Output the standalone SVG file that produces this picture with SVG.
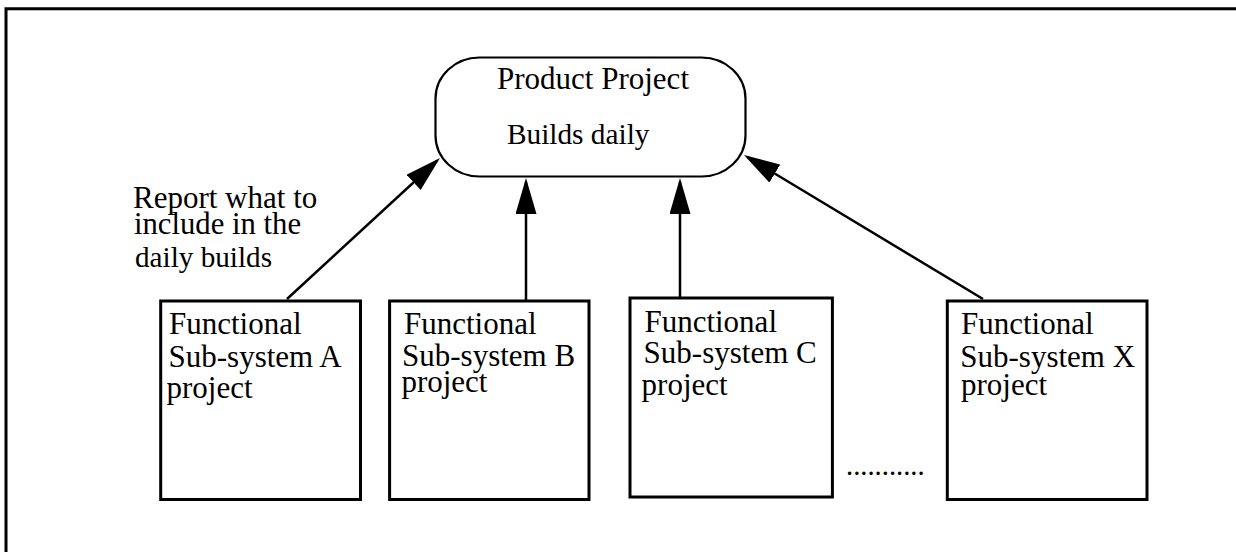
<svg xmlns="http://www.w3.org/2000/svg" width="1236" height="552" viewBox="0 0 1236 552">
  <style>
    text { font-family: "Liberation Serif", "Times New Roman", serif; fill: #000; }
    .box { fill: #fff; stroke: #000; stroke-width: 3; }
    .hub { fill: #fff; stroke: #000; stroke-width: 2.2; }
    .lbl { font-size: 31px; }
    .conn { fill: none; stroke: #000; stroke-width: 2.5; marker-end: url(#head); }
  </style>
  <defs>
    <marker id="head" markerUnits="userSpaceOnUse" markerWidth="36" markerHeight="22" refX="32" refY="10.5" orient="auto">
      <path d="M0,0 L36,10.5 L0,21 Z" fill="#000"/>
    </marker>
  </defs>

  <rect width="1236" height="552" fill="#fff"/>

  <!-- page frame: left rule and top rule -->
  <path d="M6,552 L6,8.7 L1236,8.7" fill="none" stroke="#000" stroke-width="3"/>

  <!-- connectors -->
  <g id="connectors">
    <path class="conn" d="M287,299 L437.06,160.71"/>
    <path class="conn" d="M526,301 L526,182"/>
    <path class="conn" d="M680,298 L680,182"/>
    <path class="conn" d="M983,299 L747.4,157.1"/>
  </g>

  <!-- hub node -->
  <g id="product-project">
    <rect class="hub" x="435.5" y="57.5" width="310" height="119" rx="44" ry="41"/>
    <text x="497" y="89" font-size="31">Product Project</text>
    <text x="507" y="144" font-size="29.3">Builds daily</text>
  </g>

  <!-- connector annotation -->
  <g id="report-label">
    <text x="133" y="208" font-size="31">Report what to</text>
    <text x="134" y="234" font-size="30.7">include in the</text>
    <text x="135" y="266.7" font-size="29.2">daily builds</text>
  </g>

  <g id="subsystem-a">
    <rect class="box" x="160.7" y="301" width="199.8" height="198.5"/>
    <text class="lbl" x="169" y="334">Functional</text>
    <text class="lbl" x="168.5" y="366.7">Sub-system A</text>
    <text class="lbl" x="166.5" y="398.3">project</text>
  </g>

  <g id="subsystem-b">
    <rect class="box" x="389.6" y="301" width="199.4" height="198.5"/>
    <text class="lbl" x="404" y="334">Functional</text>
    <text class="lbl" x="402" y="366">Sub-system B</text>
    <text class="lbl" x="401.4" y="391.7">project</text>
  </g>

  <g id="subsystem-c">
    <rect class="box" x="630" y="298" width="202.4" height="199"/>
    <text class="lbl" x="644.4" y="331.7">Functional</text>
    <text class="lbl" x="643.6" y="363.3">Sub-system C</text>
    <text class="lbl" x="641.6" y="395">project</text>
  </g>

  <g id="ellipsis">
    <text x="846" y="475" font-size="28.6">...........</text>
  </g>

  <g id="subsystem-x">
    <rect class="box" x="947.3" y="301" width="199.7" height="198.5"/>
    <text class="lbl" x="961" y="334.3">Functional</text>
    <text class="lbl" x="960.3" y="366.7">Sub-system X</text>
    <text class="lbl" x="961" y="395">project</text>
  </g>
</svg>
